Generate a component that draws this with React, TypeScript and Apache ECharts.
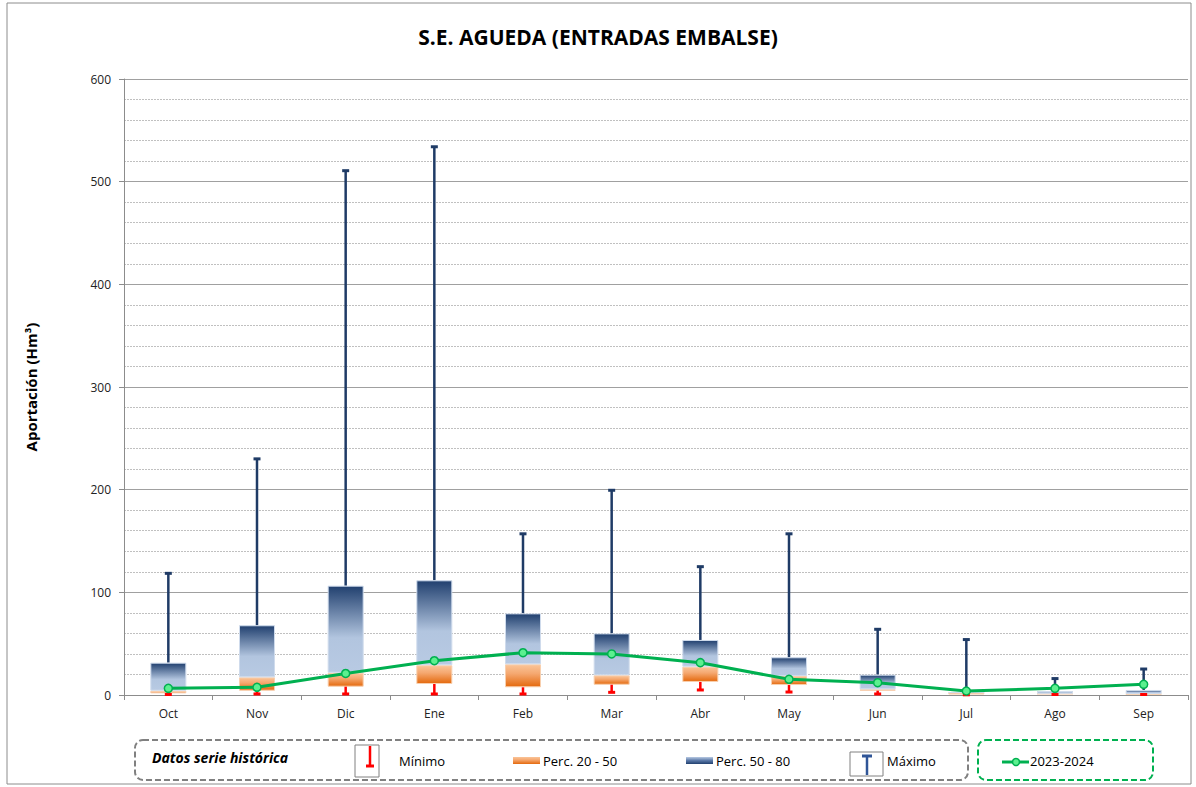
import React, { useEffect, useRef } from "react";
import * as echarts from "echarts";

const months = ["Oct", "Nov", "Dic", "Ene", "Feb", "Mar", "Abr", "May", "Jun", "Jul", "Ago", "Sep"];
const minimo = [0.5, 1, 1, 1, 1, 2.6, 4.9, 2.9, 1, 0.2, 0.5, 0.5];
const p20 = [1.6, 4.2, 8.1, 10.7, 7.5, 10, 12.7, 9.7, 4.2, 0.4, 1, 0.7];
const p50 = [4.2, 17.2, 21.7, 29, 29.9, 19.2, 27.6, 18.5, 5.5, 2.3, 1.2, 1];
const p80 = [31.5, 67.9, 106.5, 111.7, 79.5, 60, 53.6, 36.7, 19.8, 2.5, 3.9, 4.9];
const maximo = [118.5, 230, 510.7, 534, 157, 199.4, 125, 157, 64, 54, 16, 25.3];
const actual = [6.5, 7.5, 21, 33.4, 41.2, 40, 31.5, 15.3, 12, 3.9, 6.5, 10.4];
const yTicks = { min: 0, max: 600, interval: 100 };

const FONT = "'Open Sans', 'Noto Sans', sans-serif";

export default function App() {
  const ref = useRef<HTMLDivElement>(null);
  useEffect(() => {
    if (!ref.current) return;
    const chart = echarts.init(ref.current, null, { renderer: "svg" });
    const blueGrad = new echarts.graphic.LinearGradient(0, 0, 0, 1, [
      { offset: 0, color: "#21406f" },
      { offset: 0.6, color: "#b2c5df" },
      { offset: 1, color: "#b8cae3" },
    ]);
    const orangeGrad = new echarts.graphic.LinearGradient(0, 0, 0, 1, [
      { offset: 0, color: "#fac498" },
      { offset: 0.4, color: "#f5a870" },
      { offset: 1, color: "#e4690d" },
    ]);
    const navy = "#1f3b66";
    const whisker = (color: string, atTop: boolean) => (params: any, api: any) => {
      const x = api.value(0);
      const lo = api.coord([x, api.value(1)]);
      const hi = api.coord([x, api.value(2)]);
      const capY = atTop ? hi[1] : lo[1];
      return {
        type: "group",
        children: [
          { type: "line", shape: { x1: lo[0], y1: lo[1], x2: hi[0], y2: hi[1] }, style: { stroke: color, lineWidth: 2.5 } },
          { type: "line", shape: { x1: lo[0] - 3.5, y1: capY, x2: lo[0] + 3.5, y2: capY }, style: { stroke: color, lineWidth: 3 } },
        ],
      };
    };
    const base = p20;
    const orange = p50.map((v, i) => v - p20[i]);
    const blue = p80.map((v, i) => v - p50[i]);
    const option: any = {
      animation: false,
      backgroundColor: "#ffffff",
      textStyle: { fontFamily: FONT },
      title: {
        text: "S.E. AGUEDA (ENTRADAS EMBALSE)",
        left: "center",
        top: 21,
        textStyle: { fontFamily: FONT, fontWeight: "bold", fontSize: 21, color: "#000" },
      },
      grid: { left: 124, right: 8, top: 79, bottom: 92, containLabel: false },
      xAxis: {
        type: "category",
        data: months,
        boundaryGap: true,
        axisLine: { lineStyle: { color: "#8c8c8c", width: 1 } },
        axisTick: { show: true, alignWithLabel: false, length: 5, lineStyle: { color: "#8c8c8c" } },
        axisLabel: { color: "#222", fontSize: 12, fontFamily: FONT, margin: 12 },
      },
      yAxis: {
        type: "value",
        min: yTicks.min,
        max: yTicks.max,
        interval: yTicks.interval,
        name: "Aportación (Hm³)",
        nameLocation: "middle",
        nameGap: 86,
        nameTextStyle: { fontFamily: FONT, fontWeight: "bold", fontSize: 15, color: "#000" },
        axisLine: { show: true, lineStyle: { color: "#8c8c8c" } },
        axisTick: { show: true, length: 5, lineStyle: { color: "#8c8c8c" } },
        axisLabel: { color: "#222", fontSize: 12, fontFamily: FONT, margin: 13 },
        splitLine: { show: true, lineStyle: { color: "#a0a0a0", width: 1 } },
        minorTick: { show: false, splitNumber: 5 },
        minorSplitLine: { show: true, lineStyle: { color: "#c0c0c0", type: [2, 1], width: 1 } },
      },
      series: [
        {
          type: "custom",
          name: "Máximo",
          renderItem: whisker(navy, true),
          data: months.map((_, i) => [i, p80[i], maximo[i]]),
          z: 1,
        },
        {
          type: "bar",
          stack: "box",
          data: base,
          barWidth: 36,
          itemStyle: { color: "transparent" },
          z: 2,
        },
        {
          type: "bar",
          stack: "box",
          name: "Perc. 20 - 50",
          data: orange,
          barWidth: 36,
          itemStyle: { color: orangeGrad, borderColor: "#f8cfae", borderWidth: 1 },
          z: 2,
        },
        {
          type: "bar",
          stack: "box",
          name: "Perc. 50 - 80",
          data: blue,
          barWidth: 36,
          itemStyle: { color: blueGrad, borderColor: "#cfdbec", borderWidth: 1 },
          z: 2,
        },
        {
          type: "custom",
          name: "Mínimo",
          renderItem: whisker("#ff0000", false),
          data: months.map((_, i) => [i, minimo[i], p20[i]]),
          z: 3,
        },
        {
          type: "line",
          name: "2023-2024",
          data: actual,
          symbol: "circle",
          symbolSize: 8,
          lineStyle: { color: "#00b050", width: 3 },
          itemStyle: { color: "#5cf08f", borderColor: "#00b050", borderWidth: 1.5 },
          z: 5,
        },
      ],
      graphic: [
        {
          type: "rect",
          shape: { x: 7, y: 3, width: 1184, height: 781 },
          style: { fill: "none", stroke: "#8c8c8c", lineWidth: 1 },
          silent: true,
        },
        {
          type: "rect",
          shape: { x: 135, y: 740, width: 833, height: 40, r: 8 },
          style: { fill: "none", stroke: "#808080", lineWidth: 2, lineDash: [6, 3] },
        },
        {
          type: "text",
          x: 152,
          y: 757,
          style: { text: "Datos serie histórica", font: `italic bold 14px ${FONT}`, fill: "#000", verticalAlign: "middle" },
        },
        {
          type: "rect",
          shape: { x: 355, y: 745, width: 24, height: 32 },
          style: { fill: "#fff", stroke: "#808080", lineWidth: 1 },
        },
        { type: "line", shape: { x1: 370, y1: 746, x2: 370, y2: 766 }, style: { stroke: "#ff0000", lineWidth: 2.5 } },
        { type: "line", shape: { x1: 366, y1: 766, x2: 374, y2: 766 }, style: { stroke: "#ff0000", lineWidth: 3 } },
        {
          type: "text",
          x: 399,
          y: 761,
          style: { text: "Mínimo", font: `13px ${FONT}`, fill: "#000", verticalAlign: "middle" },
        },
        {
          type: "rect",
          shape: { x: 513, y: 757, width: 27, height: 7 },
          style: { fill: orangeGrad },
        },
        {
          type: "text",
          x: 543,
          y: 761,
          style: { text: "Perc. 20 - 50", font: `13px ${FONT}`, fill: "#000", verticalAlign: "middle" },
        },
        {
          type: "rect",
          shape: { x: 686, y: 757, width: 27, height: 7 },
          style: { fill: new echarts.graphic.LinearGradient(0, 0, 0, 1, [
            { offset: 0, color: "#b8cae3" },
            { offset: 0.5, color: "#5b79a8" },
            { offset: 1, color: "#21406f" },
          ]) },
        },
        {
          type: "text",
          x: 716,
          y: 761,
          style: { text: "Perc. 50 - 80", font: `13px ${FONT}`, fill: "#000", verticalAlign: "middle" },
        },
        {
          type: "rect",
          shape: { x: 850, y: 752, width: 33, height: 24 },
          style: { fill: "#fff", stroke: "#808080", lineWidth: 1 },
        },
        { type: "line", shape: { x1: 867, y1: 756, x2: 867, y2: 775 }, style: { stroke: "#2f5597", lineWidth: 2.5 } },
        { type: "line", shape: { x1: 862, y1: 756, x2: 872, y2: 756 }, style: { stroke: "#2f5597", lineWidth: 3 } },
        {
          type: "text",
          x: 887,
          y: 761,
          style: { text: "Máximo", font: `13px ${FONT}`, fill: "#000", verticalAlign: "middle" },
        },
        {
          type: "rect",
          shape: { x: 978, y: 740, width: 175, height: 40, r: 8 },
          style: { fill: "none", stroke: "#00b050", lineWidth: 2, lineDash: [6, 3] },
        },
        { type: "line", shape: { x1: 1002, y1: 762, x2: 1029, y2: 762 }, style: { stroke: "#00b050", lineWidth: 3 } },
        { type: "circle", shape: { cx: 1016, cy: 762, r: 3.5 }, style: { fill: "#5cf08f", stroke: "#00b050", lineWidth: 1.5 } },
        {
          type: "text",
          x: 1030,
          y: 761,
          style: { text: "2023-2024", font: `13px ${FONT}`, fill: "#000", verticalAlign: "middle" },
        },
      ],
    };
    chart.setOption(option);
    return () => chart.dispose();
  }, []);
  return (
    <div
      ref={ref}
      style={{ position: "fixed", left: 0, top: 0, width: 1196, height: 787, background: "#fff" }}
    />
  );
}
